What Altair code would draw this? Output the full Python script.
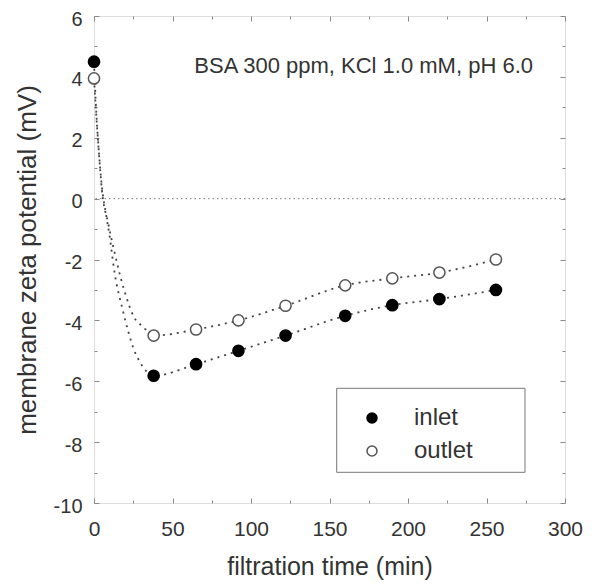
import altair as alt
import pandas as pd

# ---- data ----
time_min = [0, 38, 65, 92, 122, 160, 190, 220, 256]
inlet_mv = [4.5, -5.82, -5.44, -5.0, -4.5, -3.85, -3.5, -3.3, -3.0]
outlet_mv = [3.95, -4.5, -4.3, -4.0, -3.52, -2.85, -2.62, -2.43, -2.0]

# dotted trend curves
inlet_curve_t = [0, 1, 3, 5, 7.6, 10, 13, 18.5, 22, 25, 29, 33, 38, 65, 92, 122, 160, 190, 220, 256]
inlet_curve_mv = [4.5, 3.3, 1.6, 0.4, -0.5, -1.25, -2.4, -3.7, -4.4, -4.9, -5.35, -5.65, -5.82,
                  -5.44, -5.0, -4.5, -3.85, -3.5, -3.3, -3.0]
outlet_curve_t = [0, 1, 3, 5, 9, 13, 17, 22, 25, 31, 38, 65, 92, 122, 160, 190, 220, 256]
outlet_curve_mv = [3.95, 3.1, 1.6, 0.3, -0.8, -1.75, -2.6, -3.45, -3.85, -4.2, -4.5,
                   -4.3, -4.0, -3.52, -2.85, -2.62, -2.43, -2.0]

series_names = ["inlet", "outlet"]
x_ticks = list(range(0, 301, 25))
y_ticks = list(range(-10, 7, 1))
annotation = "BSA 300 ppm, KCl 1.0 mM, pH 6.0"
x_title = "filtration time (min)"
y_title = "membrane zeta potential (mV)"

pts = pd.DataFrame({
    "t": time_min + time_min,
    "mv": inlet_mv + outlet_mv,
    "series": ["inlet"] * len(time_min) + ["outlet"] * len(time_min),
})
curves = pd.DataFrame({
    "t": inlet_curve_t + outlet_curve_t,
    "mv": inlet_curve_mv + outlet_curve_mv,
    "series": ["inlet"] * len(inlet_curve_t) + ["outlet"] * len(outlet_curve_t),
})

FONT = "Liberation Sans"
TXT = "#333333"
FRAME = "#8a8a8a"

xs = alt.Scale(domain=[0, 300], nice=False, zero=False)
ys = alt.Scale(domain=[-10, 6], nice=False, zero=False)

x_major = "datum.value % 50 === 0"
y_major = "datum.value % 2 === 0"

x_axis_main = alt.Axis(
    orient="bottom", values=x_ticks, domain=False, grid=False,
    labelExpr=f"{x_major} ? ('' + datum.value) : ''",
    tickSize=alt.ExprRef(expr=f"{x_major} ? -5 : -3"),
    tickColor=FRAME, labelPadding=20, labelFlush=False, labelOverlap=False,
    labelFont=FONT, labelFontSize=21, labelColor=TXT,
    title=x_title, titleFont=FONT, titleFontSize=25, titleFontWeight="normal",
    titleColor=TXT, titlePadding=13,
)
y_axis_main = alt.Axis(
    orient="left", values=y_ticks, domain=False, grid=False,
    labelExpr=f"{y_major} ? ('' + datum.value) : ''",
    tickSize=alt.ExprRef(expr=f"{y_major} ? -5 : -3"),
    tickColor=FRAME, labelPadding=17, labelOffset=3, labelFlush=False, labelOverlap=False,
    labelFont=FONT, labelFontSize=20, labelColor=TXT,
    title=y_title, titleFont=FONT, titleFontSize=26, titleFontWeight="normal",
    titleColor=TXT, titlePadding=13,
)
x_axis_top = alt.Axis(
    orient="top", values=x_ticks, domain=False, grid=False, labels=False, title=None,
    tickSize=alt.ExprRef(expr=f"{x_major} ? -5 : -3"), tickColor=FRAME,
)
y_axis_right = alt.Axis(
    orient="right", values=y_ticks, domain=False, grid=False, labels=False, title=None,
    tickSize=alt.ExprRef(expr=f"{y_major} ? -5 : -3"), tickColor=FRAME,
)

zero_line = alt.Chart(pd.DataFrame({"z": [0]})).mark_rule(
    color="#777777", strokeWidth=1, strokeDash=[1.5, 3]
).encode(y=alt.Y("z:Q", scale=ys, axis=None))

lines = alt.Chart(curves).mark_line(
    color="#444444", strokeWidth=1.8, strokeDash=[2, 5], interpolate="monotone"
).encode(
    x=alt.X("t:Q", scale=xs, axis=x_axis_main),
    y=alt.Y("mv:Q", scale=ys, axis=y_axis_main),
    detail="series:N",
)

legend = alt.Legend(
    orient="none", legendX=266, legendY=390, title=None,
    labelFont=FONT, labelFontSize=24, labelColor=TXT, labelOffset=30,
    symbolSize=100, symbolStrokeWidth=1.5, symbolType="circle",
    rowPadding=9, padding=0,
)

points = alt.Chart(pts).mark_point(
    shape="circle", filled=True, opacity=1, size=125, strokeWidth=1.5
).encode(
    x=alt.X("t:Q", scale=xs, axis=None),
    y=alt.Y("mv:Q", scale=ys, axis=None),
    fill=alt.Fill("series:N", scale=alt.Scale(domain=series_names, range=["#000000", "#ffffff"]), legend=legend),
    stroke=alt.Stroke("series:N", scale=alt.Scale(domain=series_names, range=["#000000", "#555555"]), legend=legend),
)

frame_axes = alt.Chart(pts).mark_point(opacity=0).encode(
    x=alt.X("t:Q", scale=xs, axis=x_axis_top),
    y=alt.Y("mv:Q", scale=ys, axis=y_axis_right),
)

legend_box = alt.Chart(pd.DataFrame({"a": [0]})).mark_rect(
    filled=False, stroke="#777777", strokeWidth=1
).encode(x=alt.value(242.7), x2=alt.value(431), y=alt.value(372.3), y2=alt.value(456.3))

note = alt.Chart(pd.DataFrame({"txt": [annotation]})).mark_text(
    align="right", baseline="middle", font=FONT, fontSize=22, color=TXT
).encode(x=alt.value(439), y=alt.value(50), text="txt:N")

chart = alt.layer(zero_line, lines, points, frame_axes, legend_box, note).resolve_axis(
    x="independent", y="independent"
).properties(
    width=471, height=487,
    autosize=alt.AutoSizeParams(type="none"),
    padding={"left": 86, "top": 8, "right": 19, "bottom": 82},
).configure_view(stroke=FRAME, strokeWidth=1).configure(background="white")

chart.save("out.html", embed_options={"renderer": "svg", "actions": False})
